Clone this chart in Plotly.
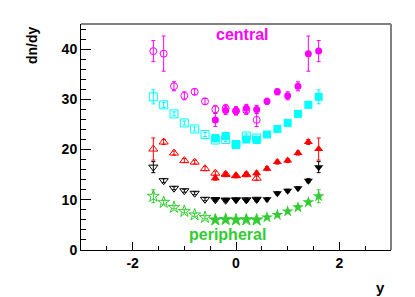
import numpy as np
import plotly.graph_objects as go

# rapidity bins of the measured (filled) points
y_bins = [-0.4, -0.2, 0.0, 0.2, 0.4, 0.6, 0.8, 1.0, 1.2, 1.4, 1.6]

central_vals = [25.9, 27.8, 27.7, 28.2, 28.0, 29.6, 31.5, 30.7, 32.6, 39.1, 39.6]
central_errs = [1.3, 0.8, 0.8, 0.8, 0.8, 0.6, 0.6, 0.8, 0.9, 3.5, 2.1]

cyan_vals = [22.3, 22.7, 21.0, 22.0, 21.9, 23.0, 24.1, 25.3, 27.1, 28.9, 30.5]
cyan_errs = [0.4, 0.4, 0.4, 0.4, 0.4, 0.4, 0.4, 0.4, 0.4, 0.5, 1.4]

red_vals = [14.3, 15.0, 14.8, 15.1, 15.3, 16.2, 17.5, 17.8, 19.3, 21.5, 20.1]
red_errs = [0.4, 0.4, 0.4, 0.4, 0.4, 0.4, 0.4, 0.4, 0.4, 0.5, 2.2]

black_vals = [10.1, 10.0, 10.0, 9.9, 10.0, 10.1, 11.3, 11.8, 12.3, 13.8, 16.5]
black_errs = [0.3, 0.3, 0.3, 0.3, 0.3, 0.3, 0.3, 0.3, 0.3, 0.4, 1.1]

periph_vals = [6.0, 6.0, 6.0, 6.1, 6.0, 6.5, 7.0, 7.7, 8.5, 9.5, 10.7]
periph_errs = [0.3, 0.3, 0.3, 0.3, 0.3, 0.3, 0.3, 0.3, 0.3, 0.4, 1.3]

x_ticks = [-2, 0, 2]
y_ticks = [0, 10, 20, 30, 40]

series = [
    (central_vals, central_errs, "#ff00ff", "circle", 7),
    (cyan_vals, cyan_errs, "#00ffff", "square", 8),
    (red_vals, red_errs, "#ff0000", "triangle-up", 8),
    (black_vals, black_errs, "#000000", "triangle-down", 8),
    (periph_vals, periph_errs, "#33cc33", "star", 9),
]

fig = go.Figure()
xb = np.array(y_bins)
for vals, errs, col, sym, sz in series:
    # reflected (open) points
    fig.add_trace(go.Scatter(
        x=-xb, y=vals, mode="markers",
        marker=dict(symbol=sym + "-open", color=col, size=sz, line=dict(width=1, color=col)),
        error_y=dict(type="data", array=errs, color=col, thickness=1, width=2),
        showlegend=False))
    # measured (filled) points
    fig.add_trace(go.Scatter(
        x=xb, y=vals, mode="markers",
        marker=dict(symbol=sym, color=col, size=sz, line=dict(width=0)),
        error_y=dict(type="data", array=errs, color=col, thickness=1, width=2),
        showlegend=False))

font_fam = "Liberation Sans, Arial, sans-serif"

fig.update_layout(
    width=407, height=289,
    margin=dict(l=73, r=24, t=16, b=47),
    paper_bgcolor="white", plot_bgcolor="white",
    font=dict(family=font_fam, color="black"),
    xaxis=dict(
        range=[-3, 3], showgrid=False, zeroline=False, automargin=False,
        tickmode="array", tickvals=x_ticks, ticktext=[str(v) for v in x_ticks],
        ticks="inside", ticklen=8, tickcolor="black", tickwidth=1,
        minor=dict(tickmode="linear", tick0=0, dtick=0.5, ticks="inside",
                   ticklen=4, tickcolor="black", tickwidth=1),
        showline=True, linecolor="black", linewidth=1, mirror=False,
        tickfont=dict(size=14, weight="bold", family=font_fam),
    ),
    yaxis=dict(
        range=[0, 45], showgrid=False, zeroline=False, automargin=False,
        tickmode="array", tickvals=y_ticks, ticktext=[str(v) for v in y_ticks],
        ticks="inside", ticklen=10, tickcolor="black", tickwidth=1,
        minor=dict(tickmode="linear", tick0=0, dtick=2, ticks="inside",
                   ticklen=5, tickcolor="black", tickwidth=1),
        showline=True, linecolor="black", linewidth=1, mirror=False,
        tickfont=dict(size=14, weight="bold", family=font_fam),
    ),
    shapes=[
        dict(type="line", xref="paper", yref="paper", x0=0, x1=1, y0=1, y1=1,
             line=dict(color="#808080", width=2)),
        dict(type="line", xref="paper", yref="paper", x0=1, x1=1, y0=0, y1=1,
             line=dict(color="#808080", width=2)),
    ],
    annotations=[
        dict(text="central", x=0.11, y=43, xref="x", yref="y", showarrow=False,
             font=dict(size=16, color="#ff00ff", weight="bold", family=font_fam)),
        dict(text="peripheral", x=-0.17, y=3, xref="x", yref="y", showarrow=False,
             font=dict(size=16, color="#33cc33", weight="bold", family=font_fam)),
        dict(text="dn/dy", x=0, y=1, xref="paper", yref="paper", xanchor="center",
             yanchor="top", xshift=-49, textangle=-90, showarrow=False,
             font=dict(size=14, weight="bold", family=font_fam)),
        dict(text="y", x=1, y=0, xref="paper", yref="paper", xanchor="right",
             yanchor="middle", xshift=-4, yshift=-37, showarrow=False,
             font=dict(size=15, weight="bold", family=font_fam)),
    ],
)

fig.write_html("out.html")
